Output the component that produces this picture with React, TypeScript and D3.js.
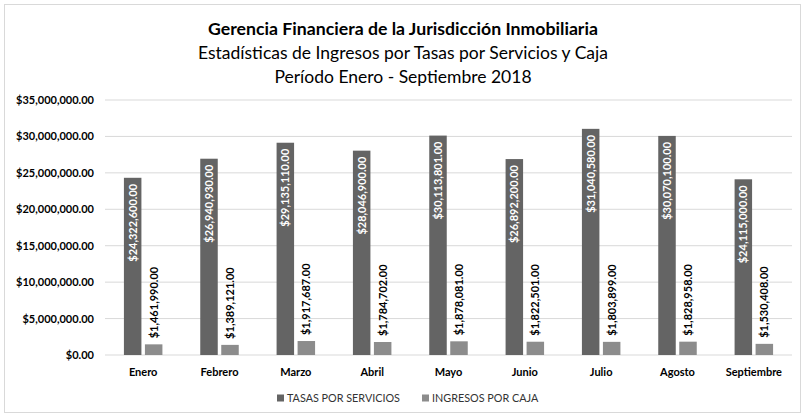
import React from "react";
import * as d3 from "d3";

const months = ["Enero", "Febrero", "Marzo", "Abril", "Mayo", "Junio", "Julio", "Agosto", "Septiembre"];
const tasas = [24322600, 26940930, 29135110, 28046900, 30113801, 26892200, 31040580, 30070100, 24115000];
const caja = [1461990, 1389121, 1917687, 1784702, 1878081, 1822501, 1803899, 1828958, 1530408];
const yTicks = [0, 5000000, 10000000, 15000000, 20000000, 25000000, 30000000, 35000000];
const seriesNames = ["TASAS POR SERVICIOS", "INGRESOS POR CAJA"];
const colors = ["#646464", "#8c8c8c"];
const titles = [
  "Gerencia Financiera de la Jurisdicción Inmobiliaria",
  "Estadísticas de Ingresos por Tasas por Servicios y Caja",
  "Período Enero - Septiembre 2018",
];

const W = 806, H = 416;
const FONT = "Lato, 'Open Sans', sans-serif";
const fmt = (v: number) => "$" + d3.format(",.2f")(v);

export default function App() {
  const x = d3.scaleBand<string>().domain(months).range([105, 792]).paddingInner(0).paddingOuter(0);
  const y = d3.scaleLinear().domain([0, 35000000]).range([355, 100]);
  const bw = 17.5;
  const gap = 3.5;
  return (
    <svg width={W} height={H} style={{ position: "absolute", left: 0, top: 0, background: "#fff" }} fontFamily={FONT}>
      <rect x={4.5} y={4.5} width={796} height={408} fill="#fff" stroke="#d9d9d9" />
      <text x={403} y={35} textAnchor="middle" fontSize={17.7} fontWeight="bold" fill="#000">{titles[0]}</text>
      <text x={403} y={59} textAnchor="middle" fontSize={17.5} fill="#000">{titles[1]}</text>
      <text x={403} y={83} textAnchor="middle" fontSize={17.5} fill="#000">{titles[2]}</text>
      {yTicks.map((t) => (
        <g key={t}>
          <line x1={105} x2={792} y1={y(t)} y2={y(t)} stroke="#d9d9d9" strokeWidth={1} />
          <text x={94} y={y(t) + 4} textAnchor="end" fontSize={11} fontWeight="bold" fill="#000">{fmt(t)}</text>
        </g>
      ))}
      {months.map((m, i) => {
        const cx = x(m)! + x.bandwidth() / 2;
        const x1 = cx - gap / 2 - bw;
        const x2 = cx + gap / 2;
        const t1 = y(tasas[i]);
        const t2 = y(caja[i]);
        return (
          <g key={m}>
            <rect x={x1} y={t1} width={bw} height={355 - t1} fill={colors[0]} />
            <rect x={x2} y={t2} width={bw} height={355 - t2} fill={colors[1]} />
            <text transform={`translate(${x1 + bw / 2 + 4},${t1 + 6}) rotate(-90)`} textAnchor="end" fontSize={11} fontWeight="bold" fill="#fff">{fmt(tasas[i])}</text>
            <text transform={`translate(${x2 + bw / 2 + 4},${t2 - 6}) rotate(-90)`} textAnchor="start" fontSize={11} fontWeight="bold" fill="#000">{fmt(caja[i])}</text>
            <text x={cx} y={376} textAnchor="middle" fontSize={11} fontWeight="bold" fill="#000">{m}</text>
          </g>
        );
      })}
      <g>
        <rect x={277} y={394.5} width={7} height={7} fill={colors[0]} />
        <text x={287} y={402} fontSize={10.8} fill="#333">{seriesNames[0]}</text>
        <rect x={422} y={394.5} width={7} height={7} fill={colors[1]} />
        <text x={432} y={402} fontSize={10.8} fill="#333">{seriesNames[1]}</text>
      </g>
    </svg>
  );
}
